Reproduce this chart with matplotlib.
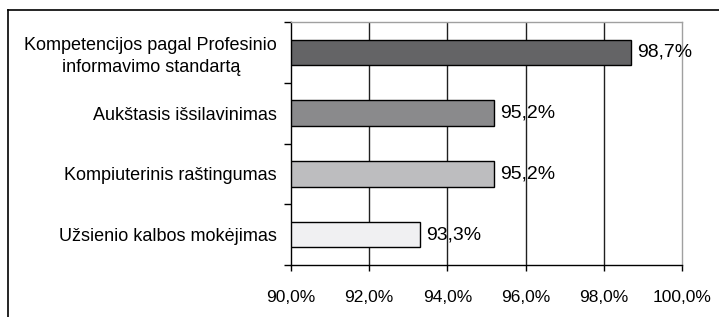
import matplotlib.pyplot as plt
import matplotlib as mpl

mpl.rcParams["font.family"] = ['Liberation Sans', 'DejaVu Sans']
mpl.rcParams["font.size"] = 13

categories = ['Kompetencijos pagal Profesinio\ninformavimo standartą',
              'Aukštasis išsilavinimas',
              'Kompiuterinis raštingumas',
              'Užsienio kalbos mokėjimas']
values = [98.7, 95.2, 95.2, 93.3]
colors = ['#646466', '#8a8a8c', '#bdbdbf', '#f0f0f2']
xticks = [90, 92, 94, 96, 98, 100]

fig = plt.figure(figsize=(7.19, 3.17), dpi=100)
# outer frame, open to the right and bottom
fig.add_artist(plt.Line2D([8/719, 8/719], [0, 1-10/317], color='k', lw=1.2))
fig.add_artist(plt.Line2D([8/719, 1], [1-10/317, 1-10/317], color='k', lw=1.2))

ax = fig.add_axes([291/719, 1-265/317, (682-291)/719, (265-22)/317])
y = list(range(len(categories)))[::-1]
ax.barh(y, [v-90 for v in values], left=90, height=0.42, color=colors,
        edgecolor='k', linewidth=1, zorder=3)
for yi, v in zip(y, values):
    ax.text(v+0.15, yi, ('%.1f%%' % v).replace('.', ','), va='center', ha='left',
            fontsize=14, zorder=4)

ax.set_xlim(90, 100)
ax.set_ylim(-0.5, 3.5)
ax.set_xticks(xticks)
ax.set_xticklabels([('%.1f%%' % t).replace('.', ',') for t in xticks], fontsize=12.5)
ax.set_yticks(y)
ax.set_yticklabels(categories, fontsize=13)
ax.tick_params(axis='y', length=0, pad=10)
for lab in ax.get_yticklabels():
    lab.set_multialignment('center')
    lab.set_linespacing(1.35)
# ticks on the category boundaries
ax.set_yticks([-0.5, 0.5, 1.5, 2.5, 3.5], minor=True)
ax.tick_params(axis='y', which='minor', length=5, width=1, color='k')
ax.tick_params(axis='x', length=4, width=1, color='k', pad=14)
for xv in xticks[1:-1]:
    ax.axvline(xv, color='#202020', lw=1, zorder=1)
ax.spines['top'].set_color('#a0a0a0')
ax.spines['right'].set_color('#a0a0a0')
ax.spines['left'].set_color('k')
ax.spines['bottom'].set_color('k')
for s in ax.spines.values():
    s.set_linewidth(1)

fig.savefig('out.png', dpi=100)
